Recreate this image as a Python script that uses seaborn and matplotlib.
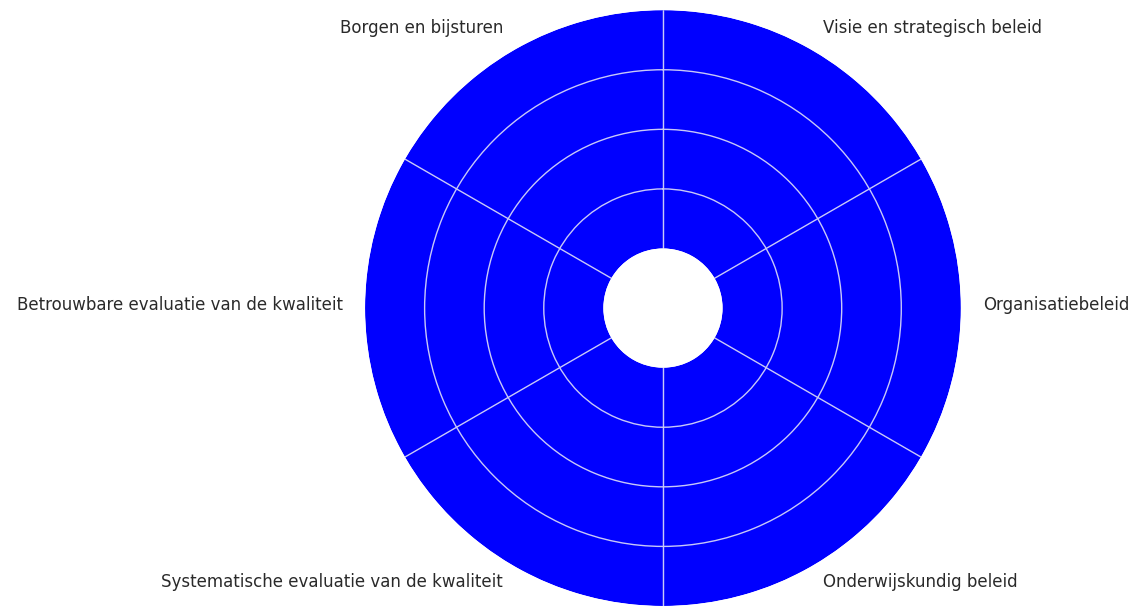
import numpy as np
import matplotlib
matplotlib.use("Agg")
import matplotlib.pyplot as plt
import seaborn as sns

# categories clockwise from the top
categories = [
    "Visie en strategisch beleid",
    "Organisatiebeleid",
    "Onderwijskundig beleid",
    "Systematische evaluatie van de kwaliteit",
    "Betrouwbare evaluatie van de kwaliteit",
    "Borgen en bijsturen",
]
scores = [5, 5, 5, 5, 5, 5]
base = 1
ring_ticks = [2, 3, 4]

sns.set_style("white")
plt.rcParams['font.family'] = ['DejaVu Sans']

fig = plt.figure(figsize=(11.32, 6.08), dpi=100)
ax = fig.add_axes([0.3224, 0.0033, 0.5265, 0.980], projection='polar')
ax.set_theta_zero_location('N')
ax.set_theta_direction(-1)

n = len(categories)
width = 2 * np.pi / n
centers = np.arange(n) * width + width / 2
heights = [s - base for s in scores]

ax.bar(centers, heights, width=width, bottom=base, color='#0000ff',
       edgecolor='none', linewidth=0, zorder=1)
# white hole in the middle, drawn over the spokes
ax.bar(0, base, width=2 * np.pi, bottom=0, color='white',
       edgecolor='none', linewidth=0, zorder=5)

ax.set_ylim(0, 5)
ax.set_yticks(ring_ticks)
ax.set_yticklabels([])
ax.set_xticks(np.arange(n) * width)
ax.set_xticklabels([])
ax.tick_params(length=0)
ax.set_axisbelow(False)
ax.grid(True, color='#c8c8f8', linewidth=1.0, zorder=3)
for sp in ax.spines.values():
    sp.set_visible(False)
ax.set_facecolor('white')

for ang, lab in zip(centers, categories):
    deg = np.degrees(ang)
    ha = 'left' if 0 < deg < 180 else 'right'
    ax.annotate(lab, xy=(ang, 5.37), xytext=(0, 2.5), textcoords='offset points',
                ha=ha, va='center', fontsize=12, color='#2a2a2a',
                annotation_clip=False)

fig.savefig('out.png', dpi=100)
